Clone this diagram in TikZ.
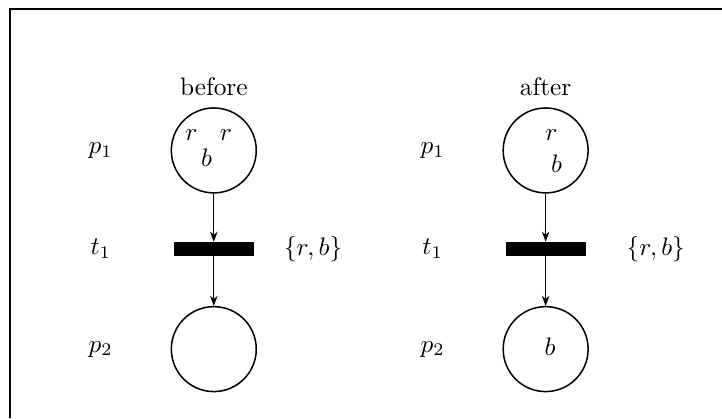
\documentclass[tikz,border=0pt]{standalone}
\usetikzlibrary{arrows.meta, positioning}

\begin{document}
\begin{tikzpicture}[
  place/.style={circle, draw, semithick, minimum size=1.18cm, inner sep=0pt},
  trans/.style={rectangle, fill=black, minimum width=1.11cm, minimum height=0.19cm, inner sep=0pt},
  arc/.style={-{Stealth[length=4pt, width=3pt]}},
  token/.style={inner sep=0pt}
]

  % Rahmen
  \useasboundingbox (0,0) rectangle (10.03,5.81);
  \draw[thick] (0.14,0) -- (0.14,5.68) -- (10.03,5.68);

  % vorher
  \node (capb) at (2.97,4.61) {before};
  \node[place] (p1b) at (2.97,3.72) {};
  \node[trans] (t1b) at (2.97,2.35) {};
  \node[place] (p2b) at (2.97,0.96) {};
  \node (lp1b) at (1.40,3.72) {$p_1$};
  \node (lt1b) at (1.40,2.35) {$t_1$};
  \node (lp2b) at (1.40,0.96) {$p_2$};
  \node (gb) at (4.35,2.35) {$\{r,b\}$};
  \node[token] (r1b) at ([shift={(-0.31,0.21)}]p1b.center) {$r$};
  \node[token] (r2b) at ([shift={(0.17,0.21)}]p1b.center) {$r$};
  \node[token] (b1b) at ([shift={(-0.10,-0.10)}]p1b.center) {$b$};
  \draw[arc] (p1b) -- (t1b);
  \draw[arc] (t1b) -- (p2b);

  % nachher
  \node (capa) at (7.58,4.61) {after};
  \node[place] (p1a) at (7.58,3.72) {};
  \node[trans] (t1a) at (7.58,2.35) {};
  \node[place] (p2a) at (7.58,0.96) {};
  \node (lp1a) at (6.01,3.72) {$p_1$};
  \node (lt1a) at (6.01,2.35) {$t_1$};
  \node (lp2a) at (6.01,0.96) {$p_2$};
  \node (ga) at (9.11,2.35) {$\{r,b\}$};
  \node[token] (r1a) at ([shift={(0.08,0.21)}]p1a.center) {$r$};
  \node[token] (b1a) at ([shift={(0.15,-0.18)}]p1a.center) {$b$};
  \node[token] (b2a) at ([shift={(0.06,0.03)}]p2a.center) {$b$};
  \draw[arc] (p1a) -- (t1a);
  \draw[arc] (t1a) -- (p2a);

\end{tikzpicture}
\end{document}
